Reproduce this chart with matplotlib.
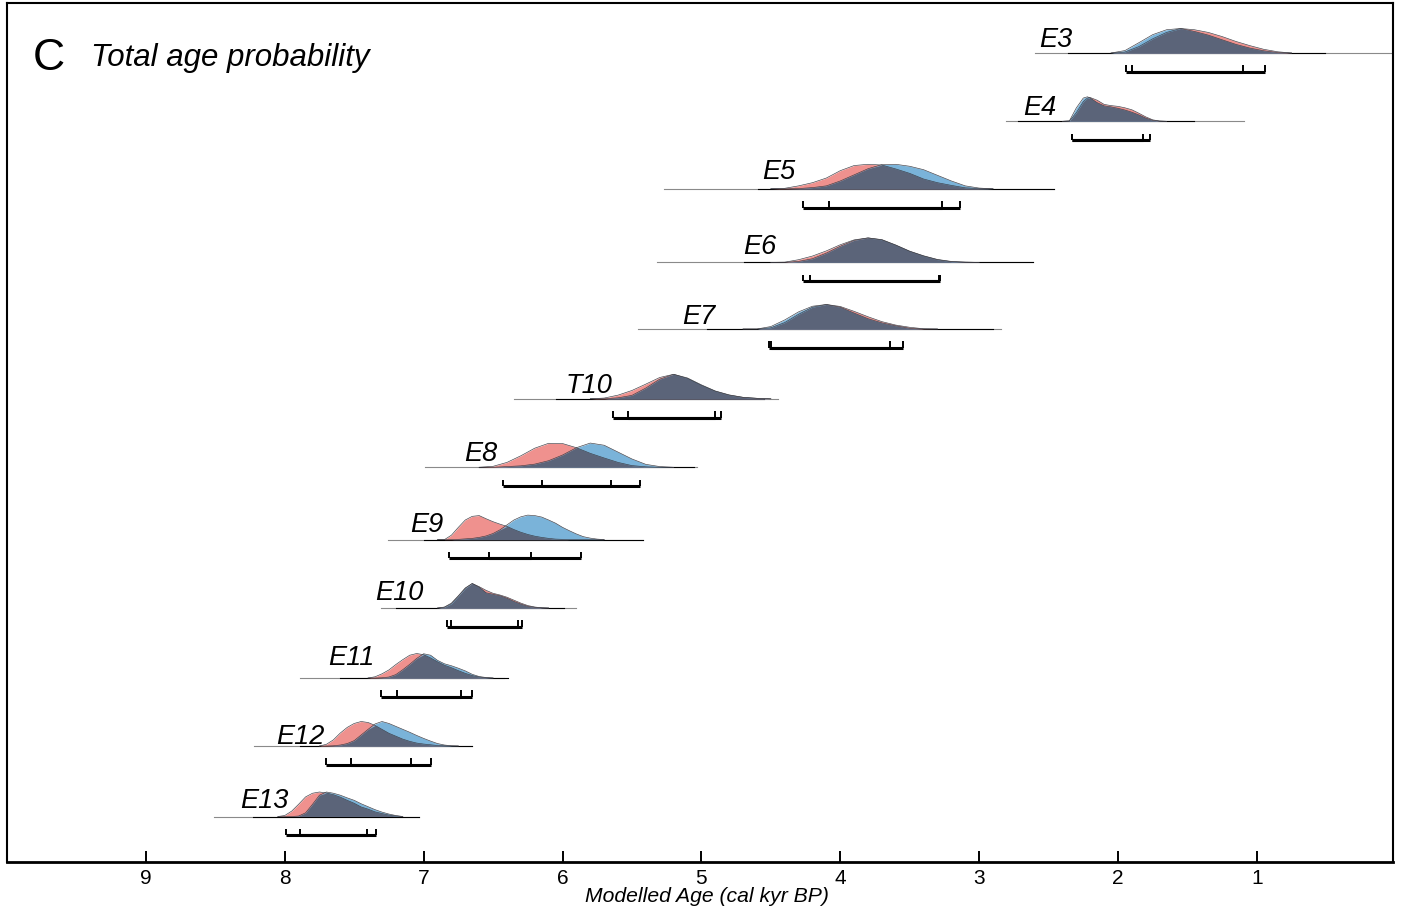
import numpy as np
import matplotlib
matplotlib.use("Agg")
import matplotlib.pyplot as plt

plt.rcParams["font.family"] = ["Liberation Sans", "DejaVu Sans"]

# event labels, top to bottom
events = ["E3", "E4", "E5", "E6", "E7", "T10", "E8", "E9", "E10", "E11", "E12", "E13"]

# probability curves (age in cal kyr BP, relative height 0..1)
ages_e3 = [2.05, 1.95, 1.85, 1.75, 1.65, 1.55, 1.45, 1.35, 1.25, 1.15, 1.05, 0.95, 0.85, 0.75]
red_e3 = [0, 0.04, 0.26, 0.58, 0.84, 1.0, 0.95, 0.84, 0.67, 0.47, 0.3, 0.15, 0.05, 0]
blue_e3 = [0, 0.1, 0.42, 0.75, 0.95, 1.0, 0.88, 0.73, 0.54, 0.35, 0.2, 0.09, 0.02, 0]

ages_e4 = [2.40, 2.35, 2.30, 2.25, 2.22, 2.20, 2.15, 2.10, 2.05, 2.00, 1.95, 1.90, 1.85, 1.80, 1.75, 1.70, 1.65]
red_e4 = [0, 0.01, 0.35, 0.8, 0.95, 0.97, 0.86, 0.69, 0.64, 0.61, 0.55, 0.47, 0.33, 0.18, 0.06, 0.01, 0]
blue_e4 = [0, 0.02, 0.55, 0.95, 1.0, 0.95, 0.76, 0.63, 0.59, 0.53, 0.46, 0.37, 0.26, 0.13, 0.04, 0.01, 0]

ages_e5 = [4.5, 4.4, 4.3, 4.2, 4.1, 4.0, 3.9, 3.8, 3.7, 3.6, 3.5, 3.4, 3.3, 3.2, 3.1, 3.0, 2.9]
red_e5 = [0, 0.02, 0.12, 0.25, 0.44, 0.74, 0.95, 1.0, 0.97, 0.81, 0.63, 0.4, 0.25, 0.14, 0.04, 0.01, 0]
blue_e5 = [0, 0, 0.01, 0.05, 0.12, 0.32, 0.57, 0.82, 0.99, 1.0, 0.92, 0.78, 0.55, 0.32, 0.12, 0.03, 0]

ages_e6 = [4.5, 4.4, 4.3, 4.2, 4.1, 4.0, 3.9, 3.8, 3.7, 3.6, 3.5, 3.4, 3.3, 3.2, 3.1, 3.0]
red_e6 = [0, 0.01, 0.11, 0.26, 0.47, 0.72, 0.92, 1.0, 0.92, 0.7, 0.45, 0.26, 0.11, 0.03, 0.01, 0]
blue_e6 = [0, 0, 0.04, 0.15, 0.38, 0.66, 0.9, 1.0, 0.93, 0.71, 0.46, 0.27, 0.12, 0.04, 0.01, 0]

ages_e7 = [4.7, 4.6, 4.5, 4.4, 4.3, 4.2, 4.1, 4.0, 3.9, 3.8, 3.7, 3.6, 3.5, 3.4, 3.3]
red_e7 = [0, 0, 0.05, 0.26, 0.6, 0.89, 1.0, 0.92, 0.72, 0.5, 0.3, 0.16, 0.07, 0.01, 0]
blue_e7 = [0, 0, 0.1, 0.37, 0.7, 0.93, 1.0, 0.89, 0.65, 0.42, 0.25, 0.13, 0.03, 0, 0]

ages_t10 = [5.8, 5.7, 5.6, 5.5, 5.4, 5.3, 5.2, 5.1, 5.0, 4.9, 4.8, 4.7, 4.6, 4.5]
red_t10 = [0, 0.03, 0.15, 0.34, 0.6, 0.87, 1.0, 0.83, 0.55, 0.31, 0.15, 0.06, 0.02, 0]
blue_t10 = [0, 0, 0.04, 0.14, 0.44, 0.8, 1.0, 0.85, 0.57, 0.32, 0.16, 0.06, 0.02, 0]

ages_e8 = [6.6, 6.5, 6.4, 6.3, 6.2, 6.1, 6.0, 5.9, 5.8, 5.7, 5.6, 5.5, 5.4, 5.3, 5.2]
red_e8 = [0, 0.04, 0.2, 0.47, 0.78, 0.98, 0.97, 0.8, 0.57, 0.38, 0.2, 0.07, 0.02, 0, 0]
blue_e8 = [0, 0, 0.03, 0.06, 0.13, 0.27, 0.5, 0.8, 0.99, 0.9, 0.62, 0.34, 0.12, 0.03, 0]

ages_e9 = [6.90, 6.85, 6.80, 6.75, 6.70, 6.65, 6.60, 6.55, 6.50, 6.45, 6.40, 6.35, 6.30,
           6.25, 6.20, 6.15, 6.10, 6.05, 6.00, 5.95, 5.90, 5.85, 5.80, 5.75, 5.70]
red_e9 = [0, 0, 0.18, 0.5, 0.8, 0.95, 0.98, 0.85, 0.73, 0.63, 0.54, 0.41, 0.3,
          0.21, 0.14, 0.09, 0.05, 0.02, 0.01, 0, 0, 0, 0, 0, 0]
blue_e9 = [0, 0, 0, 0.01, 0.03, 0.05, 0.09, 0.15, 0.25, 0.4, 0.6, 0.8, 0.93,
           1.0, 0.98, 0.92, 0.8, 0.67, 0.5, 0.36, 0.23, 0.12, 0.06, 0.02, 0]

ages_e10 = [6.90, 6.85, 6.80, 6.75, 6.70, 6.65, 6.60, 6.55, 6.50, 6.45, 6.40, 6.35, 6.30, 6.25, 6.20, 6.15, 6.10]
red_e10 = [0, 0.03, 0.17, 0.48, 0.8, 1.0, 0.87, 0.72, 0.6, 0.53, 0.44, 0.32, 0.2, 0.1, 0.04, 0.01, 0]
blue_e10 = [0, 0.04, 0.2, 0.5, 0.82, 1.0, 0.85, 0.62, 0.56, 0.5, 0.4, 0.27, 0.16, 0.07, 0.03, 0.01, 0]

ages_e11 = [7.40, 7.35, 7.30, 7.25, 7.20, 7.15, 7.10, 7.05, 7.00, 6.95, 6.90, 6.85, 6.80,
            6.75, 6.70, 6.65, 6.60, 6.55, 6.50]
red_e11 = [0, 0.05, 0.17, 0.33, 0.55, 0.75, 0.93, 1.0, 0.95, 0.82, 0.66, 0.52, 0.42,
           0.3, 0.19, 0.1, 0.04, 0.01, 0]
blue_e11 = [0, 0, 0.01, 0.04, 0.14, 0.34, 0.56, 0.8, 0.99, 0.93, 0.72, 0.58, 0.5,
            0.4, 0.29, 0.15, 0.06, 0.02, 0]

ages_e12 = [7.75, 7.70, 7.65, 7.60, 7.55, 7.50, 7.45, 7.40, 7.35, 7.30, 7.25, 7.20, 7.15,
            7.10, 7.05, 7.00, 6.95, 6.90, 6.85, 6.80, 6.75]
red_e12 = [0, 0.07, 0.25, 0.53, 0.76, 0.92, 1.0, 0.96, 0.84, 0.68, 0.52, 0.4, 0.28,
           0.19, 0.12, 0.08, 0.05, 0.02, 0.01, 0, 0]
blue_e12 = [0, 0, 0.01, 0.04, 0.1, 0.22, 0.45, 0.68, 0.9, 1.0, 0.92, 0.8, 0.68,
            0.56, 0.43, 0.31, 0.2, 0.1, 0.04, 0.01, 0]

ages_e13 = [8.05, 8.00, 7.95, 7.90, 7.85, 7.80, 7.75, 7.70, 7.65, 7.60, 7.55, 7.50, 7.45,
            7.40, 7.35, 7.30, 7.25, 7.20, 7.15]
red_e13 = [0, 0.04, 0.22, 0.5, 0.8, 0.95, 1.0, 0.96, 0.89, 0.79, 0.66, 0.54, 0.39,
           0.3, 0.19, 0.12, 0.06, 0.02, 0]
blue_e13 = [0, 0, 0, 0.02, 0.15, 0.5, 0.87, 1.0, 0.95, 0.87, 0.76, 0.66, 0.52,
            0.4, 0.28, 0.18, 0.1, 0.04, 0]

# 95% ranges shown as brackets under each curve (older, younger)
red_range = [(1.90, 0.94), (2.33, 1.82), (4.27, 3.27), (4.27, 3.29), (4.50, 3.55), (5.64, 4.90),
             (6.43, 5.65), (6.82, 6.23), (6.83, 6.29), (7.31, 6.73), (7.70, 7.09), (7.99, 7.41)]
blue_range = [(1.94, 1.10), (2.33, 1.77), (4.08, 3.14), (4.22, 3.28), (4.51, 3.64), (5.53, 4.86),
              (6.15, 5.44), (6.53, 5.87), (6.80, 6.32), (7.19, 6.65), (7.52, 6.95), (7.89, 7.34)]

# prior extent lines (grey = full prior, black = posterior window)
grey_span = [(2.60, 0.0), (2.81, 1.09), (5.27, 2.46), (5.32, 2.61), (5.46, 2.84), (6.35, 4.45),
             (6.99, 5.03), (7.26, 5.42), (7.31, 5.90), (7.89, 6.42), (8.22, 6.65), (8.51, 7.03)]
black_span = [(2.36, 0.51), (2.72, 1.45), (4.59, 2.46), (4.69, 2.61), (4.96, 2.90), (6.05, 4.55),
              (6.60, 5.05), (7.00, 5.42), (7.20, 5.99), (7.60, 6.39), (7.89, 6.65), (8.23, 7.03)]

ticks = [10, 9, 8, 7, 6, 5, 4, 3, 2, 1]
tick_labels = ["", "9", "8", "7", "6", "5", "4", "3", "2", "1"]

curves = [
    (ages_e3, red_e3, blue_e3), (ages_e4, red_e4, blue_e4), (ages_e5, red_e5, blue_e5),
    (ages_e6, red_e6, blue_e6), (ages_e7, red_e7, blue_e7), (ages_t10, red_t10, blue_t10),
    (ages_e8, red_e8, blue_e8), (ages_e9, red_e9, blue_e9), (ages_e10, red_e10, blue_e10),
    (ages_e11, red_e11, blue_e11), (ages_e12, red_e12, blue_e12), (ages_e13, red_e13, blue_e13),
]

# layout (y in pixels from the top of the figure)
row_y = [53, 121.3, 188.8, 262.4, 329, 398.8, 467.3, 539.6, 608, 678, 746, 816.5]
label_x = [2.33, 2.44, 4.32, 4.46, 4.90, 5.64, 6.47, 6.86, 7.00, 7.35, 7.71, 7.97]
label_dy = [6, 6, 10, 8, 4.5, 6, 6, 8, 7.5, 13, 2, 8]
peak_px = 24.5
bar_dy = 18.7
cap_px = 6.5

RED = "#ef918e"
BLUE = "#7ab3d9"
DARK = "#5b6479"
EDGE = "#3c3c44"

W, H = 1411, 910
fig = plt.figure(figsize=(W / 100, H / 100), dpi=100)
ax_top, ax_bot, ax_left, ax_right = 3.3, 861.7, 7, 1393
ax = fig.add_axes([ax_left / W, 1 - ax_bot / H, (ax_right - ax_left) / W, (ax_bot - ax_top) / H])
ax.set_xlim(10.0, 0.02)
ax.set_ylim(ax_bot, ax_top)

for i, (ages, red, blue) in enumerate(curves):
    base = row_y[i]
    a = np.array(ages)
    r = base - np.array(red) * peak_px
    b = base - np.array(blue) * peak_px
    over = base - np.minimum(red, blue) * peak_px

    g0, g1 = grey_span[i]
    ax.plot([g0, g1], [base, base], color="#8a8a8a", lw=0.8, zorder=1)
    k0, k1 = black_span[i]
    ax.plot([k0, k1], [base, base], color="black", lw=0.8, zorder=1.5)

    ax.fill_between(a, base, r, color=RED, lw=0, zorder=2)
    ax.fill_between(a, base, b, color=BLUE, lw=0, zorder=2)
    ax.fill_between(a, base, over, color=DARK, lw=0, zorder=3)
    ax.plot(a, r, color=EDGE, lw=0.45, zorder=4)
    ax.plot(a, b, color=EDGE, lw=0.45, zorder=4)

    yb = base + bar_dy
    for (s, e) in (red_range[i], blue_range[i]):
        ax.plot([s, e], [yb, yb], color="black", lw=2.2, solid_capstyle="butt", zorder=5)
        for xx in (s, e):
            ax.plot([xx, xx], [yb, yb - cap_px], color="black", lw=1.4,
                    solid_capstyle="butt", zorder=5)

    ax.text(label_x[i], base - label_dy[i], events[i], ha="right", va="baseline",
            fontsize=19.5, style="italic", zorder=6)

ax.set_xticks(ticks)
ax.set_xticklabels(tick_labels)
ax.set_yticks([])
ax.tick_params(axis="x", direction="in", length=8, width=1.4, pad=5, labelsize=15)
for side in ("top", "left", "right"):
    ax.spines[side].set_linewidth(1.5)
ax.spines["bottom"].set_linewidth(2.0)

fig.text(33 / W, 1 - 70 / H, "C", fontsize=32, ha="left", va="baseline")
fig.text(91 / W, 1 - 66 / H, "Total age probability", fontsize=22.5, style="italic",
         ha="left", va="baseline")
fig.text(706.5 / W, 1 - 896 / H, "Modelled Age (cal kyr BP)", fontsize=15.2,
         style="italic", ha="center", va="center")

fig.savefig("out.png", dpi=100)
